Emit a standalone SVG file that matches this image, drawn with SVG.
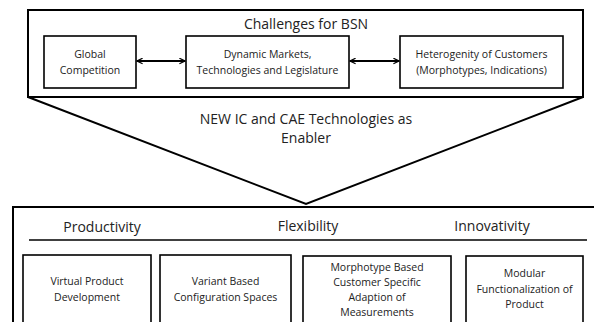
<svg xmlns="http://www.w3.org/2000/svg" width="594" height="322" viewBox="0 0 594 322">
  <defs>
    <marker id="ah" viewBox="0 0 10 10" refX="9" refY="5" markerWidth="7" markerHeight="7" orient="auto-start-reverse" markerUnits="userSpaceOnUse">
      <path d="M1,1 L9,5 L1,9" fill="none" stroke="#000" stroke-width="1.8"/>
    </marker>
    <style>
      .box { fill: #fff; stroke: #000; stroke-width: 1.6; }
      .frame { fill: none; stroke: #000; stroke-width: 2; }
      .t { font-family: "Open Sans", "Liberation Sans", sans-serif; fill: #222; text-anchor: middle; }
      .s { font-size: 10.5px; }
      .h { font-size: 14px; }
      .c { fill: none; stroke: #000; stroke-width: 1.8; }
    </style>
  </defs>
  <rect width="594" height="322" fill="#fff"/>

  <!-- funnel -->
  <g id="funnel">
    <polyline class="frame" points="28,97 306,204 583,97"/>
  </g>

  <!-- upper frame: challenges -->
  <g id="challenges">
    <rect class="frame" x="28" y="10" width="555" height="87"/>
    <text class="t h" x="306" y="29">Challenges for BSN</text>
  </g>
  <g id="global-competition">
    <rect class="box" x="44" y="36" width="92" height="52"/>
    <text class="t s" x="90" y="58">Global</text>
    <text class="t s" x="90" y="74">Competition</text>
  </g>
  <g id="dynamic-markets">
    <rect class="box" x="186" y="36" width="163" height="52"/>
    <text class="t s" x="267.5" y="58">Dynamic Markets,</text>
    <text class="t s" x="267.5" y="74">Technologies and Legislature</text>
  </g>
  <g id="heterogenity">
    <rect class="box" x="400" y="36" width="163" height="52"/>
    <text class="t s" x="481.5" y="58">Heterogenity of Customers</text>
    <text class="t s" x="481.5" y="74">(Morphotypes, Indications)</text>
  </g>

  <g id="connectors">
    <line class="c" x1="137" y1="61" x2="185" y2="61" marker-start="url(#ah)" marker-end="url(#ah)"/>
    <line class="c" x1="350" y1="61" x2="399" y2="61" marker-start="url(#ah)" marker-end="url(#ah)"/>
  </g>

  <g id="enabler">
    <text class="t h" x="306" y="124">NEW IC and CAE Technologies as</text>
    <text class="t h" x="306" y="143">Enabler</text>
  </g>

  <!-- lower frame: goals -->
  <g id="goals">
    <rect class="frame" x="13" y="207" width="590" height="130"/>
    <text class="t h" x="102" y="232">Productivity</text>
    <text class="t h" x="308" y="231">Flexibility</text>
    <text class="t h" x="492" y="231">Innovativity</text>
    <line x1="29" y1="240" x2="587" y2="240" stroke="#000" stroke-width="1.6"/>
  </g>
  <g id="virtual-product">
    <rect class="box" x="23" y="255" width="128" height="80"/>
    <text class="t s" x="87" y="285">Virtual Product</text>
    <text class="t s" x="87" y="301">Development</text>
  </g>
  <g id="variant-based">
    <rect class="box" x="160" y="255" width="131" height="80"/>
    <text class="t s" x="225.5" y="285">Variant Based</text>
    <text class="t s" x="225.5" y="301">Configuration Spaces</text>
  </g>
  <g id="morphotype-based">
    <rect class="box" x="303" y="256" width="148" height="80"/>
    <text class="t s" x="377" y="271">Morphotype Based</text>
    <text class="t s" x="377" y="286">Customer Specific</text>
    <text class="t s" x="377" y="301">Adaption of</text>
    <text class="t s" x="377" y="316">Measurements</text>
  </g>
  <g id="modular">
    <rect class="box" x="466" y="256" width="117" height="80"/>
    <text class="t s" x="524.5" y="277">Modular</text>
    <text class="t s" x="524.5" y="293">Functionalization of</text>
    <text class="t s" x="524.5" y="308">Product</text>
  </g>
</svg>
